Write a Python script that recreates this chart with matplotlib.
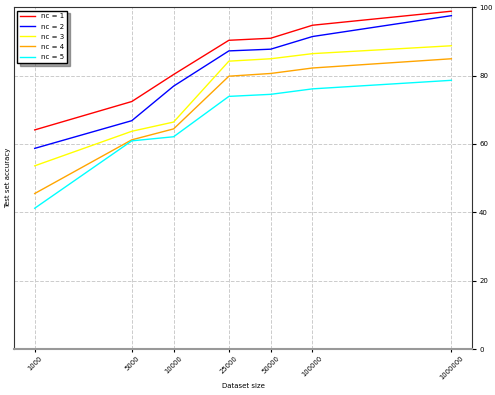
import matplotlib
matplotlib.use("Agg")
import matplotlib.pyplot as plt

sizes = [1000, 5000, 10000, 25000, 50000, 100000, 1000000]
tick_labels = ["1000", "5000", "10000", "25000", "50000", "100000", "1000000"]

acc_nc1 = [64.1, 72.4, 80.3, 90.3, 90.9, 94.7, 98.8]
acc_nc2 = [58.7, 66.8, 76.9, 87.2, 87.7, 91.4, 97.5]
acc_nc3 = [53.6, 63.7, 66.4, 84.2, 84.9, 86.4, 88.7]
acc_nc4 = [45.5, 61.2, 64.4, 79.8, 80.6, 82.2, 84.9]
acc_nc5 = [41.2, 60.9, 62.1, 73.9, 74.5, 76.1, 78.6]

series = [acc_nc1, acc_nc2, acc_nc3, acc_nc4, acc_nc5]
colors = ["red", "blue", "yellow", "orange", "cyan"]

fig = plt.figure(figsize=(4.95, 3.95), dpi=100)
ax = fig.add_axes([0.028, 0.116, 0.926, 0.866])

for i, vals in enumerate(series):
    ax.plot(sizes, vals, color=colors[i], linewidth=1, label=f"nc = {i + 1}")

ax.set_xscale("log")
ax.set_xticks(sizes)
ax.set_xticklabels(tick_labels, rotation=45, fontsize=4.9)
ax.minorticks_off()
ax.set_ylim(0, 100)
ax.set_yticks([0, 20, 40, 60, 80, 100])
ax.yaxis.tick_right()
ax.tick_params(axis="y", labelsize=5, length=3, pad=2)
ax.tick_params(axis="x", length=2, pad=2)
ax.grid(True, linestyle="--", color="#cccccc", linewidth=0.7)
ax.spines["bottom"].set_color("#999999")
ax.spines["bottom"].set_linewidth(1.5)
for s in ["left", "right", "top"]:
    ax.spines[s].set_color("#333333")

ax.set_xlabel("Dataset size", fontsize=5, labelpad=2)
ax.set_ylabel("Test set accuracy", fontsize=5, labelpad=2)
ax.yaxis.set_label_position("left")

ax.legend(loc="upper left", fontsize=5, shadow=True, fancybox=False,
          framealpha=1, edgecolor="black", handlelength=2.2,
          borderpad=0.4, labelspacing=0.6)

fig.savefig("out.png", dpi=100)
